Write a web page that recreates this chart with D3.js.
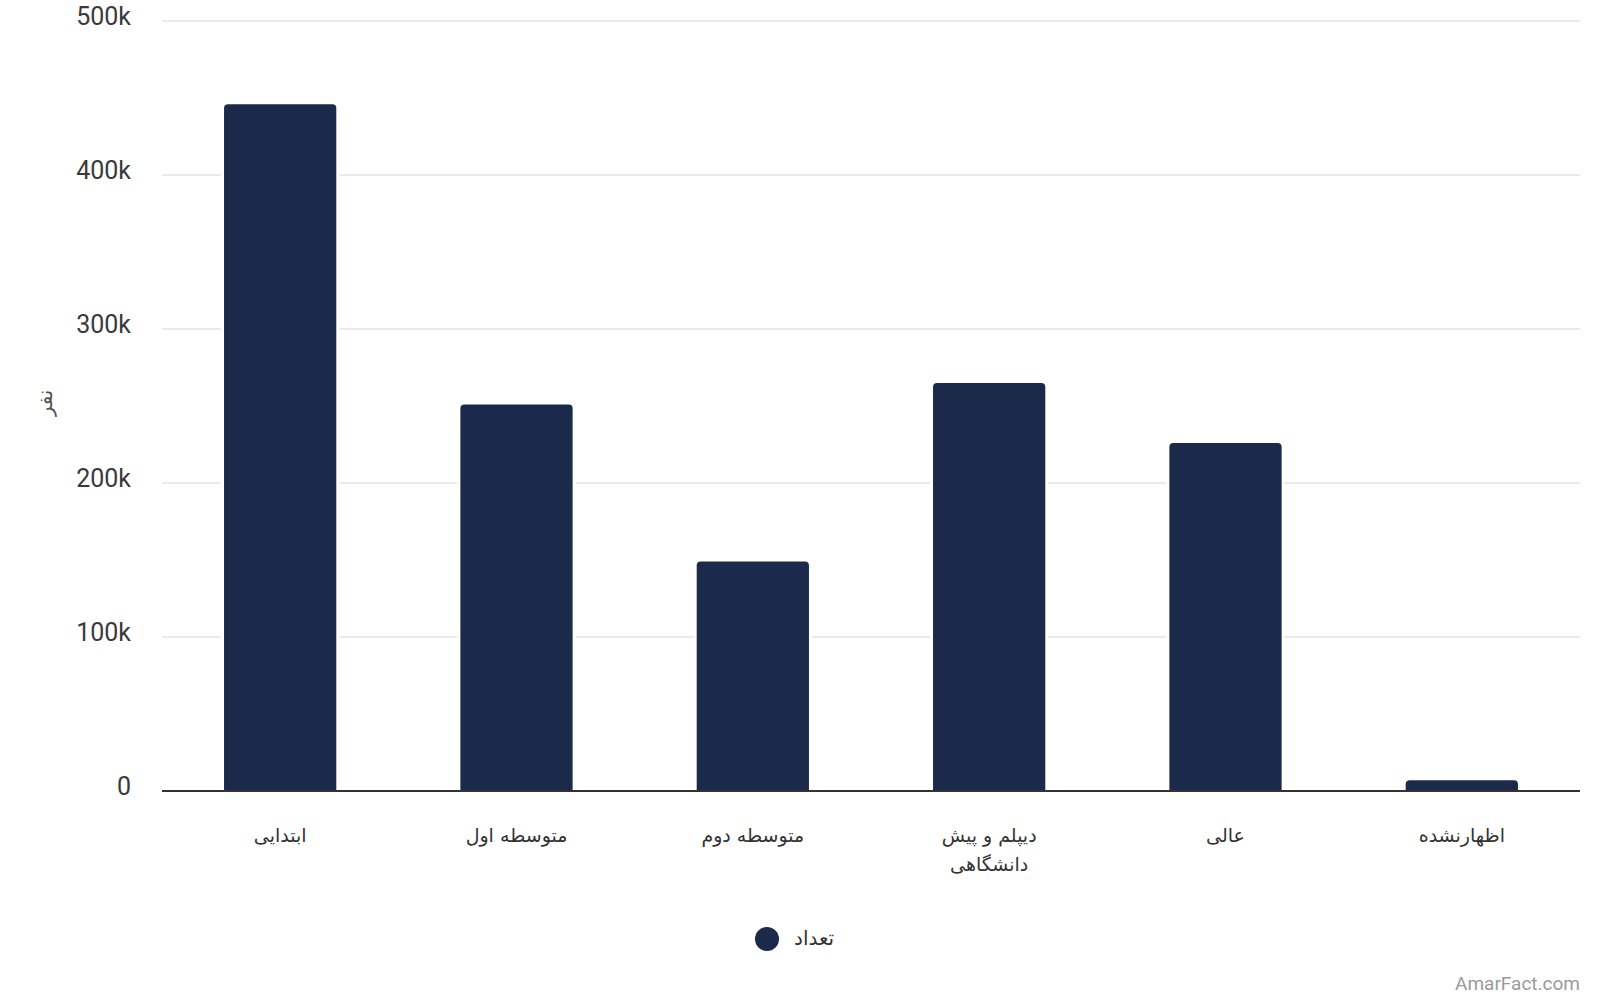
<!DOCTYPE html>
<html>
<head>
<meta charset="utf-8">
<script src="https://cdn.jsdelivr.net/npm/d3@7"></script>
<style>
  html, body { margin: 0; padding: 0; background: #fff; }
  svg { display: block; }
</style>
</head>
<body>
<svg id="chart" width="1600" height="1000"></svg>
<script>
// ---- data ----
const categories = ["ابتدایی", "متوسطه اول", "متوسطه دوم", "دیپلم و پیش دانشگاهی", "عالی", "اظهارنشده"];
const categoryLines = [["ابتدایی"], ["متوسطه اول"], ["متوسطه دوم"], ["دیپلم و پیش", "دانشگاهی"], ["عالی"], ["اظهارنشده"]];
const values = [446000, 251000, 149000, 265000, 226000, 7000];
const yTicks = [0, 100000, 200000, 300000, 400000, 500000];
const yTickLabels = ["0", "100k", "200k", "300k", "400k", "500k"];
const seriesName = "تعداد";
const yAxisTitle = "نفر";
const watermark = "AmarFact.com";

(function () {
  // ---- layout ----
  const svg = d3.select("#chart");
  const mLeft = 162, mRight = 1580, mTop = 21, mBottom = 791;
  const barColor = "#1b2a4b";

  const x = d3.scaleBand().domain(categories).range([mLeft, mRight])
    .paddingInner(0.525).paddingOuter(0.2625);
  const y = d3.scaleLinear().domain([0, 500000]).range([mBottom, mTop]);

  // gridlines
  svg.append("g").selectAll("line").data(yTicks.filter(d => d > 0)).join("line")
    .attr("x1", mLeft).attr("x2", mRight)
    .attr("y1", d => y(d)).attr("y2", d => y(d))
    .attr("stroke", "#e3e3e3").attr("stroke-width", 1.5);

  // y tick labels
  svg.append("g").selectAll("text").data(yTicks).join("text")
    .attr("x", 131).attr("y", d => y(d) - 3)
    .attr("text-anchor", "end").attr("dominant-baseline", "middle")
    .attr("font-family", "Roboto, sans-serif").attr("font-size", 25)
    .attr("fill", "#3a3a3a")
    .text((d, i) => yTickLabels[i]);

  // y axis title
  svg.append("text")
    .attr("transform", `translate(46, ${(mTop + mBottom) / 2 - 3}) rotate(-90)`)
    .attr("text-anchor", "middle").attr("dominant-baseline", "middle")
    .attr("font-family", "DejaVu Sans, sans-serif").attr("font-size", 20)
    .attr("fill", "#555")
    .text(yAxisTitle);

  // bars with rounded top corners
  const r = 4;
  function barPath(d, i) {
    const x0 = x(categories[i]), w = x.bandwidth();
    const y0 = y(d), y1 = y(0);
    const rr = Math.min(r, (y1 - y0));
    return `M${x0},${y1} L${x0},${y0 + rr} Q${x0},${y0} ${x0 + rr},${y0} L${x0 + w - rr},${y0} Q${x0 + w},${y0} ${x0 + w},${y0 + rr} L${x0 + w},${y1} Z`;
  }
  svg.append("g").selectAll("path").data(values).join("path")
    .attr("d", barPath)
    .attr("fill", barColor)
    .attr("stroke", "#fff").attr("stroke-width", 6)
    .attr("paint-order", "stroke");

  // x axis line
  svg.append("line")
    .attr("x1", mLeft).attr("x2", mRight)
    .attr("y1", y(0)).attr("y2", y(0))
    .attr("stroke", "#333").attr("stroke-width", 2);

  // category labels
  const lab = svg.append("g").selectAll("text").data(categories).join("text")
    .attr("x", d => x(d) + x.bandwidth() / 2)
    .attr("y", 842)
    .attr("text-anchor", "middle")
    .attr("font-family", "DejaVu Sans, sans-serif").attr("font-size", 19)
    .attr("fill", "#333")
    .attr("direction", "rtl");
  lab.each(function (d, i) {
    d3.select(this).selectAll("tspan").data(categoryLines[i]).join("tspan")
      .attr("x", x(d) + x.bandwidth() / 2)
      .attr("dy", (t, j) => j === 0 ? 0 : 29)
      .text(t => t);
  });

  // legend
  svg.append("circle").attr("cx", 767).attr("cy", 939).attr("r", 12).attr("fill", barColor);
  svg.append("text")
    .attr("x", 794).attr("y", 939)
    .attr("text-anchor", "start").attr("dominant-baseline", "middle")
    .attr("font-family", "DejaVu Sans, sans-serif").attr("font-size", 20)
    .attr("fill", "#333")
    .text(seriesName);

  // watermark
  svg.append("text")
    .attr("x", 1580).attr("y", 990)
    .attr("text-anchor", "end")
    .attr("font-family", "Roboto, sans-serif").attr("font-size", 19)
    .attr("fill", "#9a9a9a")
    .text(watermark);
})();
</script>
</body>
</html>
